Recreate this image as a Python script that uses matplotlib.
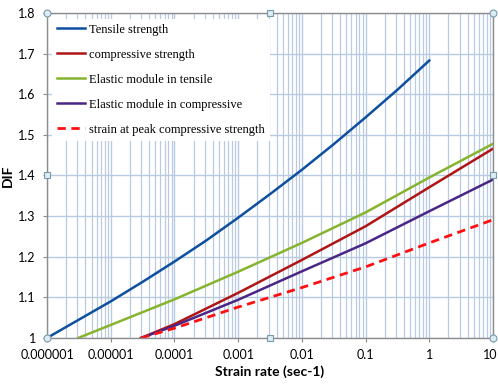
import matplotlib
matplotlib.use('Agg')
import matplotlib.pyplot as plt
import matplotlib.transforms as mtransforms
from matplotlib.ticker import LogLocator, NullFormatter, FixedLocator, FixedFormatter
import numpy as np

# Values (strain rate, DIF)
tensile_x = [1e-6, 3.16e-6, 1e-5, 3.16e-5, 1e-4, 3.16e-4, 1e-3, 3.16e-3,
             1e-2, 3.16e-2, 1e-1, 3.16e-1, 1]
tensile_y = [1.0, 1.045, 1.09, 1.138, 1.188, 1.24, 1.296, 1.354,
             1.414, 1.477, 1.543, 1.611, 1.683]

compr_x = [3e-5, 1e-4, 1e-3, 1e-2, 1e-1, 1, 10]
compr_y = [1.0, 1.034, 1.111, 1.192, 1.275, 1.371, 1.466]

etens_x = [3.1e-6, 1e-5, 1e-4, 1e-3, 1e-2, 1e-1, 1, 10]
etens_y = [1.0, 1.032, 1.095, 1.163, 1.234, 1.309, 1.395, 1.478]

ecomp_x = [3e-5, 1e-4, 1e-3, 1e-2, 1e-1, 1, 10]
ecomp_y = [1.0, 1.030, 1.094, 1.164, 1.233, 1.312, 1.39]

strain_x = [3e-5, 1e-4, 1e-3, 1e-2, 1e-1, 1, 10]
strain_y = [1.0, 1.024, 1.076, 1.124, 1.175, 1.234, 1.291]

xtick_vals = [1e-6, 1e-5, 1e-4, 1e-3, 1e-2, 1e-1, 1, 10]
xtick_labels = ['0.000001', '0.00001', '0.0001', '0.001', '0.01', '0.1', '1', '10']
ytick_vals = [1.0, 1.1, 1.2, 1.3, 1.4, 1.5, 1.6, 1.7, 1.8]
ytick_labels = ['1', '1.1', '1.2', '1.3', '1.4', '1.5', '1.6', '1.7', '1.8']

fig = plt.figure(figsize=(4.98, 3.88), dpi=100)
ax = fig.add_axes([0.0944, 0.129, 0.8956, 0.8375])

ax.set_xscale('log')
ax.set_xlim(1e-6, 10)
ax.set_ylim(1.0, 1.8)

grid_col = '#b9cbe3'
ax.xaxis.set_minor_locator(LogLocator(base=10, subs=np.arange(2, 10)))
ax.xaxis.set_minor_formatter(NullFormatter())
ax.xaxis.set_major_locator(FixedLocator(xtick_vals))
ax.xaxis.set_major_formatter(FixedFormatter(xtick_labels))
ax.yaxis.set_major_locator(FixedLocator(ytick_vals))
ax.yaxis.set_major_formatter(FixedFormatter(ytick_labels))
ax.grid(True, which='major', color=grid_col, linewidth=1.0)
ax.grid(True, which='minor', axis='x', color=grid_col, linewidth=0.9)
ax.set_axisbelow(True)

ax.plot(tensile_x, tensile_y, color='#0d4fa0', lw=1.8, label='Tensile strength')
ax.plot(compr_x, compr_y, color='#b01515', lw=1.8, label='compressive strength')
ax.plot(etens_x, etens_y, color='#86b42e', lw=1.8, label='Elastic module in tensile')
ax.plot(ecomp_x, ecomp_y, color='#4a2784', lw=1.8, label='Elastic module in compressive')
ax.plot(strain_x, strain_y, color='#ff1010', lw=2.0, ls=(0, (3, 2)),
        label='strain at peak compressive strength')

for s in ax.spines.values():
    s.set_color('#8c8c8c')
    s.set_linewidth(1.0)

ax.tick_params(axis='both', which='major', length=3, color='#8c8c8c', labelsize=9, pad=5)
ax.tick_params(axis='both', which='minor', length=0)
for lab in ax.get_xticklabels() + ax.get_yticklabels():
    lab.set_fontfamily('Lato')

# last x label sits on the figure edge; nudge it in a little
fig.canvas.draw()
last = ax.get_xticklabels()[-1]
last.set_transform(last.get_transform() +
                   mtransforms.ScaledTranslation(-3 / 100, 0, fig.dpi_scale_trans))

ax.set_xlabel('Strain rate (sec-1)', fontsize=10, fontweight='bold', family='Lato')
ax.set_ylabel('DIF', fontsize=10, fontweight='bold', family='Lato')
ax.xaxis.set_label_coords(0.5, -0.085)
ax.yaxis.set_label_coords(-0.074, 0.5)

leg = ax.legend(loc='upper left', bbox_to_anchor=(0.005, 0.99), frameon=True,
                fancybox=False, edgecolor='none', facecolor='white', framealpha=1,
                prop={'family': 'Liberation Serif', 'size': 9},
                handlelength=2.3, handletextpad=0.3, labelspacing=1.04,
                borderpad=0.4, borderaxespad=0.2)

# selection handles at corners and midpoints
hx_c = [0, 1, 0, 1]
hy_c = [0, 0, 1, 1]
ax.plot(hx_c, hy_c, ls='none', marker='o', ms=5, mfc='#dcecf4', mec='#7a9aac',
        mew=0.8, transform=ax.transAxes, clip_on=False, zorder=10)
hx_s = [0.5, 0.5, 0, 1]
hy_s = [0, 1, 0.5, 0.5]
ax.plot(hx_s, hy_s, ls='none', marker='s', ms=4.5, mfc='#dcecf4', mec='#7a9aac',
        mew=0.8, transform=ax.transAxes, clip_on=False, zorder=10)

fig.savefig('out.png', dpi=100)
